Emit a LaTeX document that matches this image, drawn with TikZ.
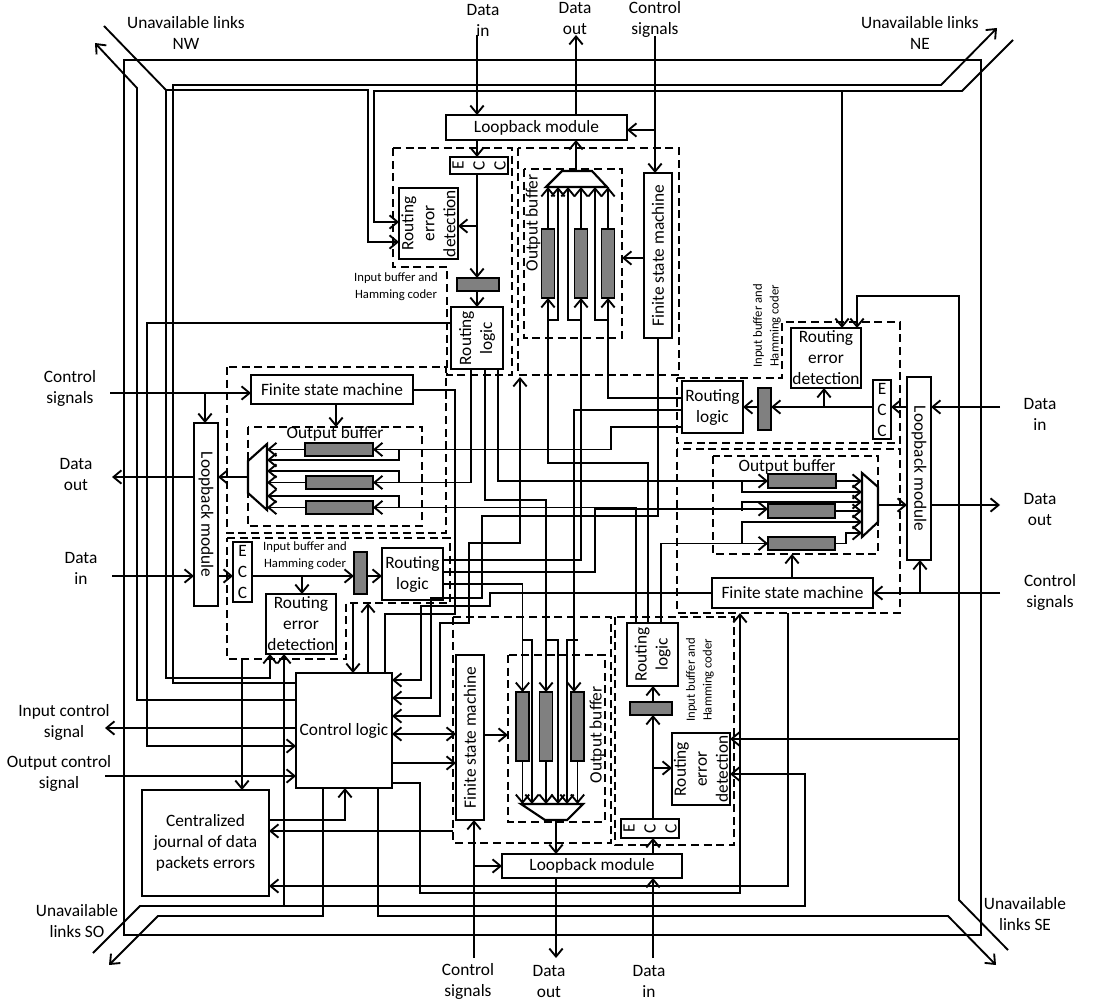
\documentclass[tikz,border=0pt]{standalone}
\usepackage{fontspec}
\setmainfont{Carlito}
\usetikzlibrary{arrows.meta, positioning, fit, calc}
\tikzset{
  wire/.style={line width=1.4pt},
  arr/.style={wire, -{Straight Barb[length=6pt,width=10pt]}},
  both/.style={wire, {Straight Barb[length=6pt,width=10pt]}-{Straight Barb[length=6pt,width=10pt]}},
  frame/.style={line width=1.3pt},
  dbox/.style={line width=1.5pt, dash pattern=on 6pt off 3.5pt},
  blk/.style={draw, line width=1.8pt, inner sep=0pt, outer sep=0pt, fit={#1}},
  buf/.style={draw, line width=1.4pt, fill=black!50, inner sep=0pt, outer sep=0pt, fit={#1}},
  txt/.style={font=\fontsize{13}{15.75}\selectfont, align=center, inner sep=0pt},
  small/.style={font=\fontsize{9.5}{12.5}\selectfont, align=center, inner sep=0pt},
}
\begin{document}
\begin{tikzpicture}[x=0.75pt, y=-0.75pt]
  \useasboundingbox (0,0) rectangle (1093,1006);

  % Outer frame
  \draw[frame] (124,60) rectangle (981,935);

  % ---------------- North port ----------------
  \node[blk={(446,115)(627,140)}] (lbN) {};
  \node[txt] (lbNt) at (lbN) {Loopback module};
  \draw[dbox] (393,148) -- (512,148) -- (512,375) -- (447,375) -- (447,267) -- (393,267) -- cycle;
  \draw[dbox] (518,148) rectangle (679,375);
  \draw[dbox] (524,169) rectangle (622,338);
  \node[txt, rotate=90] (obNt) at (533,223) {Output buffer};
  \node[blk={(450,157)(508,174)}] (eccN) {};
  \node[txt, rotate=90] (eccNt) at (eccN) {E\\C\\C};
  \node[blk={(399,188)(458,259)}] (redN) {};
  \node[txt, rotate=90] (redNt) at (redN) {Routing\\error\\detection};
  \node[buf={(457,278)(499,291)}] (ibN) {};
  \node[blk={(451,307)(503,369)}] (rlN) {};
  \node[txt, rotate=90] (rlNt) at (rlN) {Routing\\logic};
  \node[small] (ibNt) at (396,287) {Input buffer and\\Hamming coder};
  \node[blk={(644,173)(672,338)}] (fsmN) {};
  \node[txt, rotate=90] (fsmNt) at (fsmN) {Finite state machine};
  \foreach \n/\x in {1/548,2/581,3/608}
    \node[buf={({\x-6.5},229)({\x+6.5},298)}] (bufN\n) {};
  \draw[line width=1.6pt] (546,187) -- (607,187) -- (592,171) -- (562,171) -- cycle;
  \foreach \x in {548,581,608}
    \draw[arr] (\x,229) -- (\x,187);
  \foreach \x/\y in {548/558,581/568,608/595}
    \draw[arr] (\x,320) -- (\y,320) -- (\y,187);

  \node[txt] (dinN) at (483,20) {Data\\in};
  \node[txt] (doutN) at (575,19) {Data\\out};
  \node[txt] (ctlN) at (655,19) {Control\\signals};
  \draw[arr] (477,35) -- (477,0 |- lbN.north);
  \draw[arr] (576,0 |- lbN.north) -- (576,35);
  \draw[arr] (655,36) -- (655,0 |- fsmN.north);
  \draw[arr] (655,130) -- (lbN.east |- 0,130);
  \draw[arr] (477,0 |- lbN.south) -- (477,0 |- eccN.north);
  \draw[arr] (477,0 |- eccN.south) -- (477,0 |- ibN.north);
  \draw[arr] (477,226) -- (redN.east |- 0,226);
  \draw[arr] (477,0 |- ibN.south) -- (477,0 |- rlN.north);
  \draw[arr] (576,171) -- (576,0 |- lbN.south);
  \draw[arr] (fsmN.west |- 0,258) -- (622,258);

  % ---------------- West port ----------------
  \node[blk={(251,375)(413,404)}] (fsmW) {};
  \node[txt] (fsmWt) at (fsmW) {Finite state machine};
  \node[blk={(194,423)(218,606)}] (lbW) {};
  \node[txt, rotate=-90] (lbWt) at (lbW) {Loopback module};
  \draw[dbox] (227,367) rectangle (446,533);
  \draw[dbox] (248,427) rectangle (422,526);
  \node[txt] (obWt) at (335,434) {Output buffer};
  \node[buf={(305,443)(373,456)}] (bufW1) {};
  \node[buf={(306,476)(373,489)}] (bufW2) {};
  \node[buf={(306,501)(373,514)}] (bufW3) {};
  \draw[line width=1.6pt] (267,444) -- (267,510) -- (248,493) -- (248,461) -- cycle;
  \foreach \y in {449.5,482.5,507.5}
    \draw[arr] (305,\y) -- (267,\y);
  \foreach \a/\b in {449.5/460,482.5/471,507.5/496}
    \draw[arr] (399,\a) -- (399,\b) -- (267,\b);
  \draw[dbox] (227,538) -- (450,538) -- (450,603) -- (346,603) -- (346,659) -- (227,659) -- cycle;
  \node[blk={(233,542)(252,602)}] (eccW) {};
  \node[txt] (eccWt) at (eccW) {E\\C\\C};
  \node[buf={(354,552)(367,594)}] (ibW) {};
  \node[blk={(382,548)(443,600)}] (rlW) {};
  \node[txt] (rlWt) at (rlW) {Routing\\logic};
  \node[blk={(266,594)(336,654)}] (redW) {};
  \node[txt] (redWt) at (redW) {Routing\\error\\detection};
  \node[small] (ibWt) at (305,556) {Input buffer and\\Hamming coder};

  \node[txt] (ctlW) at (70,388) {Control\\signals};
  \node[txt] (doutW) at (76,474) {Data\\out};
  \node[txt] (dinW) at (81,568) {Data\\in};
  \draw[arr] (110,393) -- (fsmW.west |- 0,393);
  \draw[arr] (205,393) -- (205,0 |- lbW.north);
  \draw[arr] (lbW.west |- 0,477) -- (112,477);
  \draw[arr] (112,576) -- (lbW.west |- 0,576);
  \draw[arr] (248,477) -- (lbW.east |- 0,477);
  \draw[arr] (336,0 |- fsmW.south) -- (336,427);
  \draw[arr] (lbW.east |- 0,576) -- (eccW.west |- 0,576);
  \draw[arr] (eccW.east |- 0,576) -- (ibW.west |- 0,576);
  \draw[arr] (302,576) -- (302,0 |- redW.north);
  \draw[arr] (ibW.east |- 0,576) -- (rlW.west |- 0,576);

  % ---------------- East port ----------------
  \draw[dbox] (677,378) -- (782,378) -- (782,322) -- (900,322) -- (900,443) -- (677,443) -- cycle;
  \draw[dbox] (677,449) rectangle (900,613);
  \draw[dbox] (713,456) rectangle (878,554);
  \node[txt] (obEt) at (787,467) {Output buffer};
  \node[blk={(907,377)(931,560)}] (lbE) {};
  \node[txt, rotate=-90] (lbEt) at (lbE) {Loopback module};
  \node[blk={(873,380)(891,439)}] (eccE) {};
  \node[txt] (eccEt) at (eccE) {E\\C\\C};
  \node[buf={(758,388)(771,430)}] (ibE) {};
  \node[blk={(682,381)(743,433)}] (rlE) {};
  \node[txt] (rlEt) at (rlE) {Routing\\logic};
  \node[blk={(791,328)(861,388)}] (redE) {};
  \node[txt] (redEt) at (redE) {Routing\\error\\detection};
  \node[small, rotate=90] (ibEt) at (767,326) {Input buffer and\\Hamming coder};
  \node[blk={(712,578)(873,608)}] (fsmE) {};
  \node[txt] (fsmEt) at (fsmE) {Finite state machine};
  \node[buf={(768,474)(836,488)}] (bufE1) {};
  \node[buf={(768,504)(835,518)}] (bufE2) {};
  \node[buf={(768,537)(835,550)}] (bufE3) {};
  \draw[line width=1.6pt] (862,473) -- (878,487) -- (878,522) -- (862,537) -- cycle;
  \draw[arr] (836,481) -- (862,481);
  \draw[arr] (835,511) -- (862,511);
  \draw[arr] (835,543.5) -- (846,543.5) -- (846,533) -- (862,533);
  \foreach \a/\b in {481/492,511/502,543.5/522}
    \draw[arr] (742,\a) -- (742,\b) -- (862,\b);

  \node[txt] (dinE) at (1040,414) {Data\\in};
  \node[txt] (doutE) at (1040,509) {Data\\out};
  \node[txt] (ctlE) at (1050,592) {Control\\signals};
  \draw[arr] (1000,407) -- (lbE.east |- 0,407);
  \draw[arr] (lbE.west |- 0,407) -- (eccE.east |- 0,407);
  \draw[arr] (eccE.west |- 0,407) -- (ibE.east |- 0,407);
  \draw[arr] (824,407) -- (824,0 |- redE.south);
  \draw[arr] (ibE.west |- 0,407) -- (rlE.east |- 0,407);
  \draw[arr] (lbE.east |- 0,505) -- (1000,505);
  \draw[arr] (878,505) -- (lbE.west |- 0,505);
  \draw[arr] (1000,593) -- (fsmE.east |- 0,593);
  \draw[arr] (920,593) -- (920,0 |- lbE.south);
  \draw[arr] (792,0 |- fsmE.north) -- (792,554);

  % ---------------- South port ----------------
  \node[blk={(502,854)(682,878)}] (lbS) {};
  \node[txt] (lbSt) at (lbS) {Loopback module};
  \draw[dbox] (453,617) rectangle (611,843);
  \draw[dbox] (508,655) rectangle (605,822);
  \draw[dbox] (615,617) rectangle (734,845);
  \node[txt, rotate=90] (obSt) at (597,735) {Output buffer};
  \node[blk={(456,655)(484,820)}] (fsmS) {};
  \node[txt, rotate=90] (fsmSt) at (fsmS) {Finite state machine};
  \node[blk={(621,819)(679,838)}] (eccS) {};
  \node[txt, rotate=90] (eccSt) at (eccS) {E\\C\\C};
  \node[buf={(630,702)(672,715)}] (ibS) {};
  \node[blk={(627,623)(678,686)}] (rlS) {};
  \node[txt, rotate=90] (rlSt) at (rlS) {Routing\\logic};
  \node[blk={(672,733)(730,805)}] (redS) {};
  \node[txt, rotate=90] (redSt) at (redS) {Routing\\error\\detection};
  \node[small, rotate=90] (ibSt) at (700,680) {Input buffer and\\Hamming coder};
  \foreach \n/\x in {1/522.5,2/546,3/577.5}
    \node[buf={({\x-6.5},692)({\x+6.5},761)}] (bufS\n) {};
  \draw[line width=1.6pt] (521,804) -- (583,804) -- (567,820) -- (545,820) -- cycle;
  \foreach \x in {522.5,546,577.5}
    \draw[arr] (\x,761) -- (\x,804);
  \foreach \a/\b in {522.5/532,546/558,577.5/567}
    \draw[arr] (\a,640) -- (\b,640) -- (\b,804);

  \node[txt] (ctlS) at (468,981) {Control\\signals};
  \node[txt] (doutS) at (549,981) {Data\\out};
  \node[txt] (dinS) at (649,981) {Data\\in};
  \draw[arr] (556,0 |- lbS.south) -- (556,958);
  \draw[arr] (653,958) -- (653,0 |- lbS.south);
  \draw[arr] (474,958) -- (474,0 |- fsmS.south);
  \draw[arr] (474,866) -- (lbS.west |- 0,866);
  \draw[arr] (556,820) -- (556,0 |- lbS.north);
  \draw[arr] (653,0 |- lbS.north) -- (653,0 |- eccS.south);
  \draw[arr] (653,0 |- eccS.north) -- (653,0 |- ibS.south);
  \draw[arr] (653,768) -- (redS.west |- 0,768);
  \draw[arr] (653,0 |- ibS.north) -- (653,0 |- rlS.south);
  \draw[arr] (fsmS.east |- 0,735) -- (508,735);

  % ---------------- Control logic and journal ----------------
  \node[blk={(296,673)(392,788)}] (cl) {};
  \node[txt] (clt) at (cl) {Control logic};
  \node[blk={(142,790)(269,896)}] (jr) {};
  \node[txt] (jrt) at (jr) {Centralized\\journal of data\\packets errors};
  \node[txt] (ictl) at (64,722) {Input control\\signal};
  \node[txt] (octl) at (59,773) {Output control\\signal};
  \draw[arr] (cl.west |- 0,728) -- (105,728);
  \draw[arr] (105,776) -- (cl.west |- 0,776);
  \draw[arr] (rlN.west |- 0,323) -- (147,323) -- (147,746) -- (cl.west |- 0,746);
  \draw[arr] (242,659) -- (242,0 |- jr.north);
  \draw[arr] (jr.east |- 0,820) -- (345,820) -- (345,0 |- cl.south);
  \draw[arr] (453,831) -- (jr.east |- 0,831);
  \draw[arr] (788,613) -- (788,886) -- (jr.east |- 0,886);
  \draw[arr] (353,603) -- (353,0 |- cl.north);
  \draw[arr] (368,0 |- cl.north) -- (368,603);
  \draw[wire] (fsmW.east |- 0,390) -- (455,390) -- (455,614) -- (385,614) -- (385,0 |- cl.north);
  \draw[arr] (658,0 |- fsmN.south) -- (658,516) -- (482,516) -- (482,598) -- (431,598) -- (431,698) -- (cl.east |- 0,698);
  \draw[arr] (fsmE.west |- 0,593) -- (490,593) -- (490,606) -- (421,606) -- (421,680) -- (cl.east |- 0,680);
  \draw[both] (cl.east |- 0,716) -- (440,716) -- (440,623) -- (469,623) -- (469,543) -- (520,543) -- (520,377);
  \draw[both] (cl.east |- 0,734) -- (fsmS.west |- 0,734);
  \draw[arr] (cl.east |- 0,763) -- (fsmS.west |- 0,763);
  \draw[arr] (cl.east |- 0,783) -- (420,783) -- (420,893) -- (740,893) -- (740,613);

  % ---------------- Routing logic to output buffers ----------------
  \draw[arr] (471,0 |- rlN.south) -- (471,482.5) -- (373,482.5);
  \draw[arr] (485,0 |- rlN.south) -- (485,500) -- (546,500) -- (546,692);
  \draw[arr] (498,0 |- rlN.south) -- (498,481) -- (768,481);
  \draw[arr] (rlW.east |- 0,560) -- (581,560) -- (581,298);
  \draw[arr] (rlW.east |- 0,572) -- (595,572) -- (595,509) -- (768,509);
  \draw[arr] (rlW.east |- 0,584) -- (522.5,584) -- (522.5,692);
  \draw[arr] (rlE.west |- 0,398) -- (608,398) -- (608,298);
  \draw[arr] (rlE.west |- 0,410) -- (574,410) -- (574,692);
  \draw[arr] (rlE.west |- 0,427) -- (611,427) -- (611,449.5) -- (373,449.5);
  \draw[arr] (636,0 |- rlS.north) -- (636,507.5) -- (373,507.5);
  \draw[arr] (648,0 |- rlS.north) -- (648,463) -- (548,463) -- (548,298);
  \draw[arr] (661,0 |- rlS.north) -- (661,543.5) -- (768,543.5);

  % ---------------- Unavailable links ----------------
  \node[txt] (ulNW) at (186,33) {Unavailable links\\NW};
  \node[txt] (ulNE) at (920,33) {Unavailable links\\NE};
  \node[txt] (ulSO) at (77,921) {Unavailable\\links SO};
  \node[txt] (ulSE) at (1025,914) {Unavailable\\links SE};
  \draw[arr] (cl.west |- 0,700) -- (137,700) -- (137,88) -- (95,43);
  \draw[arr] (104,26) -- (166,90) -- (368,90) -- (368,242) -- (redN.west |- 0,242);
  \draw[arr] (166,90) -- (166,678) -- (270,678) -- (270,0 |- redW.south);
  \draw[arr] (cl.west |- 0,683) -- (173,683) -- (173,85) -- (941,85) -- (997,28);
  \draw[arr] (1013,40) -- (962,91) -- (374,91) -- (374,222) -- (redN.west |- 0,222);
  \draw[arr] (842,91) -- (842,0 |- redE.north);
  \draw[arr] (1008,950) -- (959,900) -- (959,296) -- (857,296) -- (857,0 |- redE.north);
  \draw[arr] (959,739) -- (redS.east |- 0,739);
  \draw[arr] (93,953) -- (140,906) -- (805,906) -- (805,774) -- (redS.east |- 0,774);
  \draw[arr] (284,906) -- (284,0 |- redW.south);
  \draw[arr] (323,0 |- cl.south) -- (323,916) -- (158,916) -- (109,965);
  \draw[arr] (378,0 |- cl.south) -- (378,916) -- (948,916) -- (996,965);
\end{tikzpicture}
\end{document}
